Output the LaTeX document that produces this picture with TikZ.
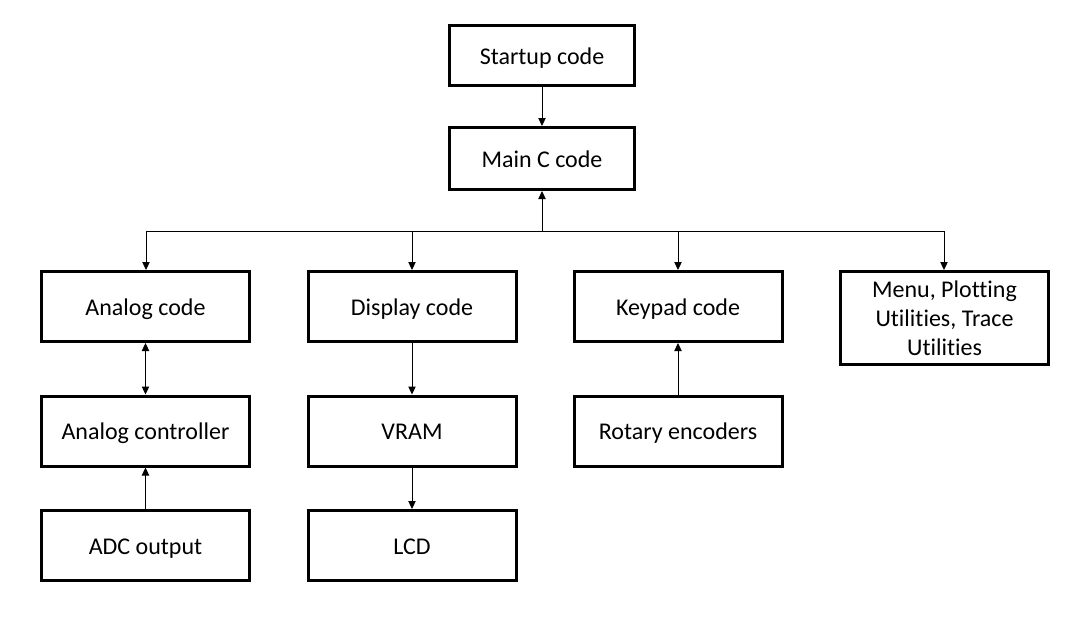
\documentclass[tikz,border=0pt]{standalone}
\usepackage{fontspec}
\setmainfont{Carlito}[Ligatures=NoCommon]
\usetikzlibrary{arrows.meta}
\newcommand{\nl}{\kern0pt }
\begin{document}
\begin{tikzpicture}[x=0.75pt,y=-0.75pt,
  box/.style={draw=black,line width=2.25pt,fill=white,minimum width=156pt,minimum height=52.5pt,
    inner sep=2pt,align=center,font=\fontsize{18}{21.75}\selectfont},
  one/.style={box,text height=15.5pt,text depth=2.4pt},
  conn/.style={draw=black,line width=0.75pt,-{Triangle[length=6pt,width=5.5pt]}},
  dconn/.style={draw=black,line width=0.75pt,{Triangle[length=6pt,width=5.5pt]}-{Triangle[length=6pt,width=5.5pt]}}]
\useasboundingbox (0,0) rectangle (1082,633);
\node[one,minimum width=138.75pt,minimum height=45pt] (startup) at (542,55.5) {Startup code};
\node[one,minimum width=138.75pt,minimum height=46.5pt] (main) at (542,158.5) {Main C code};
\node[one] (analog) at (145.5,306.5) {Analog code};
\node[one] (display) at (412,306.5) {Display code};
\node[one] (keypad) at (678,306.5) {Keypad code};
\node[box,minimum height=69.75pt] (menu) at (944.5,318) {Menu, Plott\nl ing\\Ut\nl ilit\nl ies, Trace\\Ut\nl ilit\nl ies};
\node[one] (actrl) at (145.5,431) {Analog controller};
\node[one] (vram) at (412,431) {VRAM};
\node[one] (rotary) at (678,431) {Rotary encoders};
\node[one] (adc) at (145.5,545.5) {ADC output};
\node[one] (lcd) at (412,545.5) {LCD};
\coordinate (busL) at (146,231);
\coordinate (busR) at (944,231);
\coordinate (busM) at (542,231);
\draw[line width=0.75pt] (busL) -- (busR);
\draw[conn] (startup) -- (main);
\draw[conn] (busM) -- (main);
\draw[conn] (busL) -- (busL |- analog.north);
\draw[conn] (412,231) -- (display.north);
\draw[conn] (678,231) -- (keypad.north);
\draw[conn] (busR) -- (busR |- menu.north);
\draw[dconn] (analog) -- (actrl);
\draw[conn] (adc) -- (actrl);
\draw[conn] (display) -- (vram);
\draw[conn] (vram) -- (lcd);
\draw[conn] (rotary) -- (keypad);
\end{tikzpicture}
\end{document}
